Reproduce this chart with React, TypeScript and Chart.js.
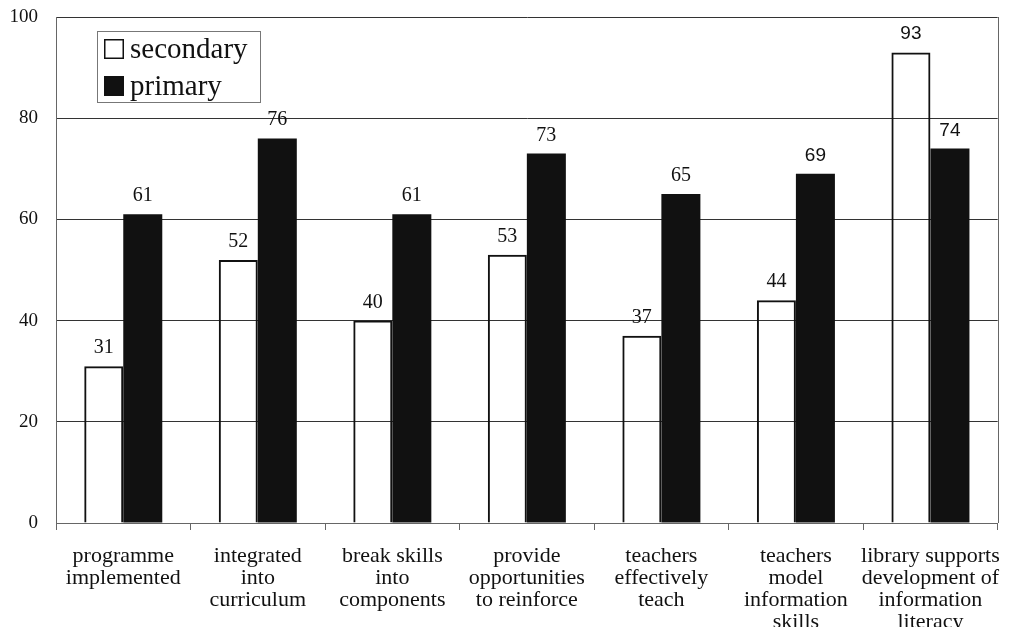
import React, { useEffect, useRef } from "react";
import { Chart, registerables } from "chart.js";

Chart.register(...registerables);

const categories: string[][] = [
  ["programme", "implemented"],
  ["integrated", "into", "curriculum"],
  ["break skills", "into", "components"],
  ["provide", "opportunities", "to reinforce"],
  ["teachers", "effectively", "teach"],
  ["teachers", "model", "information", "skills"],
  ["library supports", "development of", "information", "literacy"],
];

const secondary: number[] = [31, 52, 40, 53, 37, 44, 93];
const primary: number[] = [61, 76, 61, 73, 65, 69, 74];

const yTicks: number[] = [0, 20, 40, 60, 80, 100];

const SERIF = "'Liberation Serif', 'Times New Roman', serif";
const SANS = "'Liberation Sans', Arial, sans-serif";

// a few of the printed value labels use a sans face
const sansLabels: Record<string, boolean> = { "1-5": true, "0-6": true, "1-6": true };

const valueLabels = {
  id: "valueLabels",
  afterDatasetsDraw(chart: any) {
    const ctx = chart.ctx;
    ctx.save();
    ctx.fillStyle = "#111";
    ctx.textAlign = "center";
    ctx.textBaseline = "alphabetic";
    chart.data.datasets.forEach((ds: any, di: number) => {
      const meta = chart.getDatasetMeta(di);
      meta.data.forEach((bar: any, i: number) => {
        const sans = sansLabels[`${di}-${i}`];
        ctx.font = sans ? `19px ${SANS}` : `20px ${SERIF}`;
        ctx.fillText(String(ds.data[i]), bar.x, bar.y - 13);
      });
    });
    ctx.restore();
  },
};

const frameAndLegend = {
  id: "frameAndLegend",
  afterDraw(chart: any) {
    const ctx = chart.ctx;
    const { right, top, bottom } = chart.chartArea;
    ctx.save();
    // right edge of the plot frame
    ctx.strokeStyle = "#666";
    ctx.lineWidth = 1;
    ctx.beginPath();
    ctx.moveTo(Math.round(right) + 0.5, top);
    ctx.lineTo(Math.round(right) + 0.5, bottom);
    ctx.stroke();

    // legend box
    const bx = 97, by = 31, bw = 163, bh = 71;
    ctx.fillStyle = "#fff";
    ctx.fillRect(bx, by, bw, bh);
    ctx.strokeStyle = "#777";
    ctx.strokeRect(bx + 0.5, by + 0.5, bw, bh);

    const items = [
      { label: chart.data.datasets[0].label, fill: "#fff" },
      { label: chart.data.datasets[1].label, fill: "#111" },
    ];
    ctx.font = `29px ${SERIF}`;
    ctx.textBaseline = "middle";
    ctx.textAlign = "left";
    items.forEach((it, i) => {
      const cy = by + 18 + i * 37;
      ctx.fillStyle = it.fill;
      ctx.fillRect(104, cy - 10, 20, 20);
      ctx.strokeStyle = "#111";
      ctx.lineWidth = 1.5;
      ctx.strokeRect(104.75, cy - 9.25, 18.5, 18.5);
      ctx.fillStyle = "#111";
      ctx.fillText(it.label, 130, cy + 1);
    });
    ctx.restore();
  },
};

export default function App() {
  const ref = useRef<HTMLCanvasElement>(null);

  useEffect(() => {
    document.body.style.margin = "0";
    const canvas = ref.current;
    if (!canvas) return;
    const chart = new Chart(canvas, {
      type: "bar",
      data: {
        labels: categories,
        datasets: [
          {
            label: "secondary",
            data: secondary,
            backgroundColor: "rgba(255,255,255,0)",
            borderColor: "#111",
            borderWidth: 2,
            borderSkipped: "bottom",
            categoryPercentage: 0.58,
            barPercentage: 1,
          },
          {
            label: "primary",
            data: primary,
            backgroundColor: "#111",
            borderColor: "#111",
            borderWidth: 0,
            categoryPercentage: 0.58,
            barPercentage: 1,
          },
        ],
      },
      options: {
        responsive: false,
        animation: false,
        layout: { padding: { top: 17, right: 17, left: 0, bottom: 0 } },
        plugins: {
          legend: { display: false },
          tooltip: { enabled: false },
        },
        scales: {
          x: {
            offset: true,
            grid: {
              display: true,
              drawOnChartArea: false,
              drawTicks: true,
              tickLength: 7,
              color: "#666",
              offset: true,
            },
            border: { display: true, color: "#666", width: 1 },
            ticks: {
              autoSkip: false,
              maxRotation: 0,
              minRotation: 0,
              padding: 15,
              color: "#111",
              font: { family: SERIF, size: 22, lineHeight: 1.0 },
            },
            afterFit(scale: any) {
              scale.height = 104;
            },
          },
          y: {
            min: 0,
            max: 100,
            afterBuildTicks(scale: any) {
              scale.ticks = yTicks.map((v) => ({ value: v }));
            },
            grid: {
              color: "#333",
              lineWidth: 1,
              drawTicks: false,
            },
            border: { display: true, color: "#666", width: 1 },
            ticks: {
              padding: 18,
              color: "#111",
              font: { family: SERIF, size: 19 },
            },
            afterFit(scale: any) {
              scale.width = 56;
              scale.paddingTop = 0;
              scale.paddingBottom = 0;
            },
          },
        },
      },
      plugins: [valueLabels, frameAndLegend],
    });
    return () => chart.destroy();
  }, []);

  return (
    <div style={{ width: 1016, height: 627, background: "#fff" }}>
      <canvas ref={ref} width={1016} height={627} />
    </div>
  );
}
